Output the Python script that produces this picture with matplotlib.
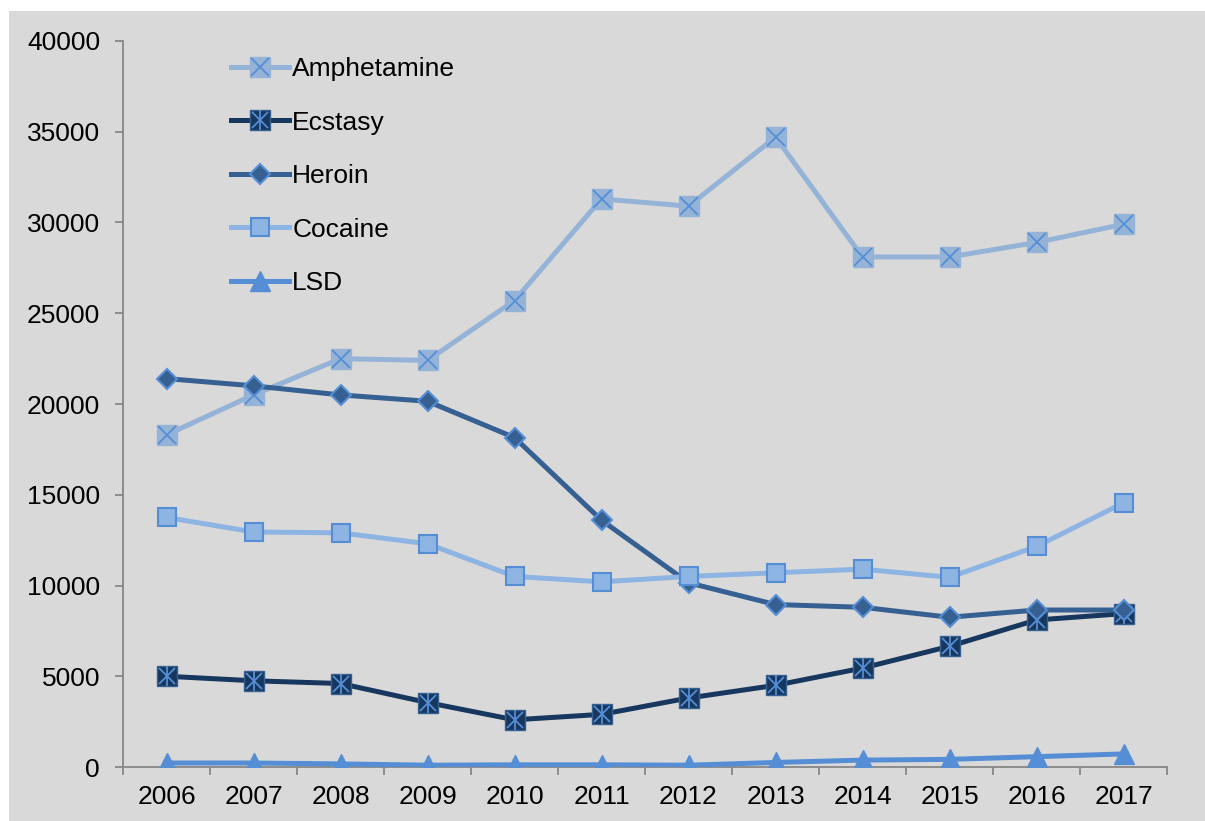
import matplotlib.pyplot as plt
from matplotlib.lines import Line2D
from matplotlib.legend_handler import HandlerTuple
from matplotlib.patches import Rectangle

plt.rcParams['font.family'] = ['Liberation Sans', 'DejaVu Sans']

years = [2006, 2007, 2008, 2009, 2010, 2011, 2012, 2013, 2014, 2015, 2016, 2017]
amphetamine = [18300, 20500, 22500, 22400, 25700, 31300, 30900, 34700, 28100, 28100, 28900, 29900]
ecstasy = [5000, 4750, 4600, 3550, 2600, 2900, 3800, 4500, 5450, 6650, 8100, 8450]
heroin = [21400, 21000, 20500, 20150, 18150, 13600, 10150, 8950, 8800, 8250, 8650, 8650]
cocaine = [13750, 12950, 12900, 12300, 10500, 10200, 10500, 10700, 10900, 10450, 12150, 14550]
lsd = [220, 220, 170, 100, 120, 120, 100, 250, 380, 420, 570, 720]

edge = '#558ED5'

fig = plt.figure(figsize=(12.05, 8.21), dpi=100)
fig.patches.append(Rectangle((9 / 1205, 0), 1, 1 - 11 / 821, transform=fig.transFigure,
                             facecolor='#D9D9D9', edgecolor='none', zorder=-10))
ax = fig.add_axes([123 / 1205, 54 / 821, 1044 / 1205, 726 / 821])
ax.set_facecolor('none')

x = list(range(len(years)))

# Amphetamine: light square with blue X
ax.plot(x, amphetamine, color='#95B3D7', lw=3.6, marker='s', ms=14,
        mfc='#95B3D7', mec='#95B3D7', zorder=2)
ax.plot(x, amphetamine, ls='none', marker='x', ms=13, mec=edge, mew=1.3, zorder=2.1)
# Ecstasy: dark square with asterisk
ax.plot(x, ecstasy, color='#17375E', lw=3.6, marker='s', ms=14,
        mfc='#17375E', mec='#366092', zorder=3)
ax.plot(x, ecstasy, ls='none', marker='x', ms=11, mec=edge, mew=1.3, zorder=3.1)
ax.plot(x, ecstasy, ls='none', marker='|', ms=14, mec=edge, mew=1.3, zorder=3.1)
# Heroin: dark blue diamond
ax.plot(x, heroin, color='#366092', lw=3.6, marker='D', ms=10.5,
        mfc='#366092', mec=edge, mew=1.5, zorder=4)
# Cocaine: light square
ax.plot(x, cocaine, color='#8DB4E2', lw=3.6, marker='s', ms=13.5,
        mfc='#8DB4E2', mec=edge, mew=1.5, zorder=5)
# LSD: triangle
ax.plot(x, lsd, color=edge, lw=3.6, marker='^', ms=14,
        mfc=edge, mec=edge, zorder=6)

ax.set_xlim(-0.5, len(years) - 0.5)
ax.set_ylim(0, 40000)
ax.set_yticks(range(0, 40001, 5000))
ax.set_xticks(x)
ax.set_xticklabels([str(y) for y in years])
ax.set_xticks([i - 0.5 for i in range(len(years) + 1)], minor=True)
ax.tick_params(axis='x', which='major', length=0, labelsize=19, pad=13)
ax.tick_params(axis='x', which='minor', length=6, width=1.3, color='#868686', direction='out')
ax.tick_params(axis='y', length=6, width=1.3, color='#868686', labelsize=19, pad=10.5)

for s in ['top', 'right']:
    ax.spines[s].set_visible(False)
for s in ['left', 'bottom']:
    ax.spines[s].set_color('#868686')
    ax.spines[s].set_linewidth(1.3)

h_amp = (Line2D([], [], color='#95B3D7', lw=3.6, marker='s', ms=14, mfc='#95B3D7', mec='#95B3D7'),
         Line2D([], [], ls='none', marker='x', ms=13, mec=edge, mew=1.3))
h_ecs = (Line2D([], [], color='#17375E', lw=3.6, marker='s', ms=14, mfc='#17375E', mec='#366092'),
         Line2D([], [], ls='none', marker='x', ms=11, mec=edge, mew=1.3),
         Line2D([], [], ls='none', marker='|', ms=14, mec=edge, mew=1.3))
h_her = Line2D([], [], color='#366092', lw=3.6, marker='D', ms=10.5, mfc='#366092', mec=edge, mew=1.5)
h_coc = Line2D([], [], color='#8DB4E2', lw=3.6, marker='s', ms=13.5, mfc='#8DB4E2', mec=edge, mew=1.5)
h_lsd = Line2D([], [], color=edge, lw=3.6, marker='^', ms=14, mfc=edge, mec=edge)

fig.legend([h_amp, h_ecs, h_her, h_coc, h_lsd],
           ['Amphetamine', 'Ecstasy', 'Heroin', 'Cocaine', 'LSD'],
           handler_map={tuple: HandlerTuple(ndivide=1, pad=0)},
           loc='upper left', bbox_to_anchor=(231 / 1205, 1 - 57 / 821),
           frameon=False, fontsize=19, handlelength=2.2, handletextpad=0.12,
           labelspacing=1.12, borderpad=0, borderaxespad=0)

fig.savefig('out.png', dpi=100)
